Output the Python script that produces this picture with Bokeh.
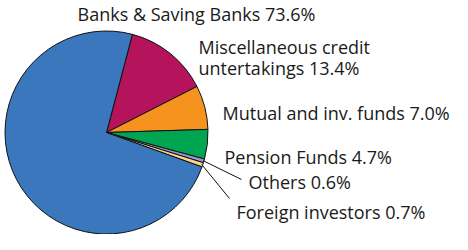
import math
from bokeh.plotting import figure
from bokeh.models import Range1d, ColumnDataSource
from bokeh.core.properties import value
from bokeh.embed import file_html
from bokeh.resources import INLINE

# ---- data ----
categories = ["Misc", "Mutual", "Pension", "Others", "Foreign", "Banks"]
shares = [13.4, 7.0, 4.7, 0.6, 0.7, 73.6]
colors = ["#b5135c", "#f6931e", "#00a551", "#8e9bd4", "#f4d389", "#3b77bc"]
label_lines = [
    ["Miscellaneous credit", "untertakings 13.4%"],
    ["Mutual and inv. funds 7.0%"],
    ["Pension Funds 4.7%"],
    ["Others 0.6%"],
    ["Foreign investors 0.7%"],
    ["Banks & Saving Banks 73.6%"],
]

# ---- layout ----
W, H = 452, 234
cx, cy, R = 106, 102, 101.5
start_deg_from_north = 14.8  # clockwise from 12 o'clock

p = figure(width=W, height=H, output_backend="svg", toolbar_location=None,
           x_range=Range1d(0, W), y_range=Range1d(0, H),
           x_axis_location=None, y_axis_location=None, min_border=0)
p.grid.visible = False
p.outline_line_color = None
p.background_fill_color = "white"
p.border_fill_color = "white"

total = sum(shares)
starts, ends, mids = [], [], []
acc = start_deg_from_north
for s in shares:
    a0 = acc
    a1 = acc + s / total * 360.0
    acc = a1
    starts.append(math.radians(90 - a0))
    ends.append(math.radians(90 - a1))
    mids.append(math.radians(90 - (a0 + a1) / 2))

src = ColumnDataSource(dict(x=[cx] * len(shares), y=[cy] * len(shares),
                            start=starts, end=ends, color=colors))
p.wedge(x="x", y="y", radius=R, start_angle="start", end_angle="end",
        direction="clock", fill_color="color", line_color="#111111",
        line_width=1, source=src)

# leader lines for small slices (Others, Foreign)
leader_ends = {3: (241, 55), 4: (229, 36)}
for i, (ex, ey) in leader_ends.items():
    sx = cx + R * 0.99 * math.cos(mids[i])
    sy = cy + R * 0.99 * math.sin(mids[i])
    p.line([sx, ex], [sy, ey], line_color="#111111", line_width=1)

# label positions (left x, baseline y of first line)
label_pos = [(198, 188), (222, 122), (224, 78), (248, 53), (236, 23), (77, 221)]
line_gap = 21
for lines, (lx, ly) in zip(label_lines, label_pos):
    for k, t in enumerate(lines):
        p.text(x=[lx], y=[ly - k * line_gap], text=[t],
               text_font=value("Open Sans"), text_font_size="18px",
               text_color="#1a1a1a", text_align="left",
               text_baseline="alphabetic")

open("out.html", "w").write(file_html(p, INLINE))
